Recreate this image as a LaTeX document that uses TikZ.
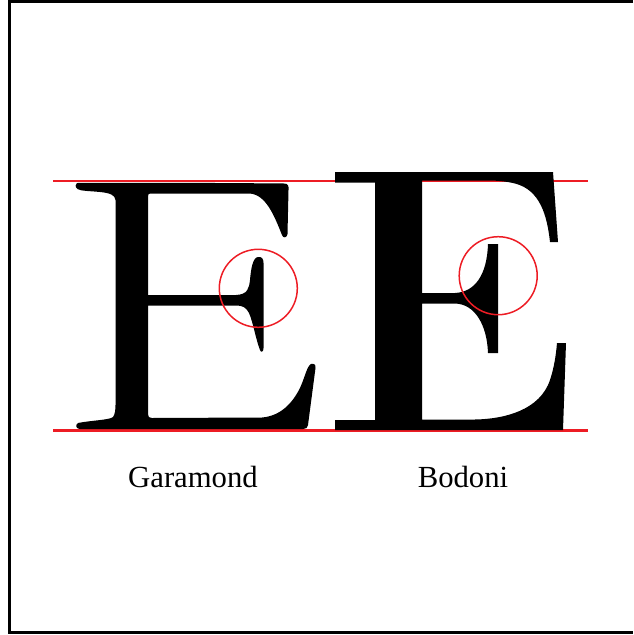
\documentclass[tikz,border=0pt]{standalone}
\usepackage{fontspec}
\setmainfont{Liberation Serif}
\usepackage{tikz}
\usetikzlibrary{calc,positioning}
\definecolor{guidered}{RGB}{237,28,36}
\tikzset{
  guide/.style={draw=guidered, line width=2.8pt},
  loupe/.style={draw=guidered, line width=1.5pt},
  glyph/.style={fill=black},
  caption/.style={font=\fontsize{30.7}{36}\selectfont, anchor=base, inner sep=0pt},
}

\begin{document}
\begin{tikzpicture}[x=1pt,y=-1pt]
                \useasboundingbox (0,0) rectangle (633,635);
                % frame, open on the right
                \coordinate (frameNE) at (633,1.3);
                \coordinate (frameNW) at (9.7,1.3);
                \coordinate (frameSW) at (9.7,632.6);
                \coordinate (frameSE) at (633,632.6);
                \draw[line width=3pt] (frameNE) -- (frameNW) -- (frameSW) -- (frameSE);
                \coordinate (capL) at (53,181);
                \coordinate (capR) at (588,181);
                \coordinate (baseL) at (53,430.5);
                \coordinate (baseR) at (588,430.5);
                \coordinate (gserif) at (258.3,288.3);
                \coordinate (bserif) at (498.2,275.7);
                \draw[guide] (capL) -- (capR);
                \draw[guide] (baseL) -- (baseR);
                % Garamond E
                \fill[glyph] (77,183) .. controls (150,182.5) and (230,183) .. (284,183.5)
                    .. controls (288,183.5) and (289,186) .. (288.5,190)
                    -- (287.5,234) .. controls (287,238) and (283,238.5) .. (282,235)
                    .. controls (274,215) and (266,195) .. (250,193.5)
                    -- (151,193.5) .. controls (148.5,193.5) .. (148,197)
                    -- (148,295) -- (236,295)
                    .. controls (248,294.5) and (249,288) .. (250,280)
                    .. controls (251,268) and (253,257.5) .. (258,257)
                    .. controls (262,256.5) and (263.5,259) .. (263.5,263)
                    -- (263.5,348) .. controls (263.5,352) and (261,353) .. (260,350)
                    .. controls (256,340) and (253,322) .. (249,313)
                    .. controls (246,307) and (242,305.5) .. (236,305.5)
                    -- (148,305.5) -- (148,414) .. controls (148,417) and (149,418) .. (152,418)
                    -- (262,417.5) .. controls (280,416) and (292,404) .. (300,388)
                    .. controls (305,377) and (307,366) .. (311,364)
                    .. controls (314,363) and (316,365) .. (315.5,368)
                    -- (308,425) .. controls (307.5,428) and (306,429) .. (303,429)
                    -- (80,429) .. controls (76,429) and (75,425) .. (78,423)
                    .. controls (90,420.5) and (110,420) .. (113,417)
                    .. controls (115,414) and (115.5,410) .. (115.5,405)
                    -- (115.5,200) .. controls (115,195) and (110,193) .. (100,192)
                    .. controls (90,191) and (80,191) .. (77.5,189)
                    .. controls (75,187) and (75,184) .. (77,183) -- cycle;
                % Bodoni E
                \fill[glyph] (335,172) -- (553,172) -- (558,242) -- (550,242)
                    .. controls (547,215) and (540,190) .. (515,183.5)
                    .. controls (505,181) and (495,180.5) .. (487,180.5)
                    -- (422,180.5) -- (422,293) -- (455,293)
                    .. controls (475,292) and (487,275) .. (488,244)
                    -- (498,244) -- (498,353) -- (488,353)
                    .. controls (487,325) and (475,304) .. (455,303.5)
                    -- (422,303.5) -- (422,419.5) -- (475,419.5)
                    .. controls (505,419) and (540,410) .. (550,380)
                    .. controls (554,368) and (556,355) .. (557,343)
                    -- (566,343) -- (563,430) -- (335,430) -- (335,420)
                    -- (375,420) -- (375,182.5) -- (335,182.5) -- cycle;
                \draw[loupe] (gserif) circle[radius=39];
                \draw[loupe] (bserif) circle[radius=39];
                \node[caption] (garamond) at (193,487.3) {Garamond};
                \node[caption] (bodoni) at (463,487.3) {Bodoni};
            \end{tikzpicture}
\end{document}
